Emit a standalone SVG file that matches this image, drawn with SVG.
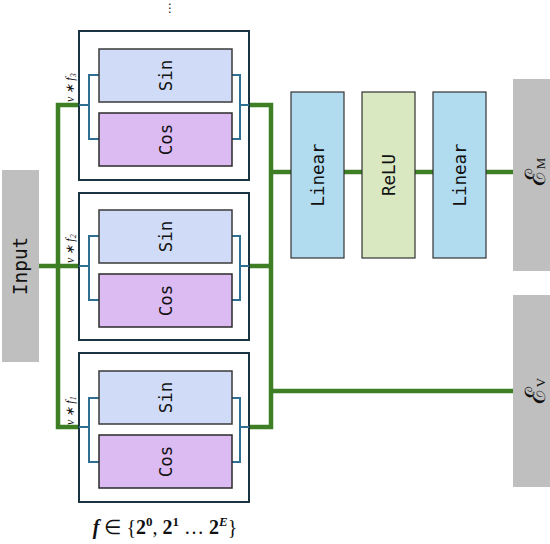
<svg xmlns="http://www.w3.org/2000/svg" width="550" height="544" viewBox="0 0 550 544">
<style>
.outer{fill:#fff;stroke:#1b3443;stroke-width:2}
.sin{fill:#d0dbf7;stroke:#3a3a3a;stroke-width:1.5}
.cos{fill:#dcbaf2;stroke:#2a2a2a;stroke-width:1.5}
.lin{fill:#b1dcf0;stroke:#333;stroke-width:1.2}
.relu{fill:#d9e8c1;stroke:#333;stroke-width:1.2}
.gray{fill:#bfbfbf}
.mono{font-family:"DejaVu Sans Mono",monospace;font-size:17.5px;fill:#111;text-anchor:middle;dominant-baseline:central}
.green{fill:none;stroke:#3e7f25;stroke-width:4.5}
.blue{fill:none;stroke:#2f6f92;stroke-width:2}
.vf{font-family:"Liberation Serif",serif;font-style:italic;font-size:12px;fill:#111}
.em{font-family:"DejaVu Serif",serif;font-size:28px;fill:#111;text-anchor:middle;dominant-baseline:central}
</style>
<g id="connectors">
<path class="green" d="M39,266 H79"/>
<path class="green" d="M79,105 H58 V427 H79"/>
<path class="green" d="M249,105 H271 V427 H249"/>
<path class="green" d="M249,266 H271"/>
<path class="green" d="M271,172 H291"/>
<path class="green" d="M344,172 H362"/>
<path class="green" d="M415,172 H433"/>
<path class="green" d="M486,172 H513"/>
<path class="green" d="M271,391 H513"/>
</g>
<g id="dots"><text x="170" y="8" font-family="DejaVu Sans,sans-serif" font-size="12" text-anchor="middle" dominant-baseline="central" fill="#111">⋮</text></g>
<g id="input"><rect class="gray" x="2" y="170" width="37" height="192"/><text class="mono" transform="translate(20.5,266) rotate(-90)" style="font-size:19.5px">Input</text></g>
<g id="block3">
<rect class="outer" x="79" y="31" width="170" height="149"/>
<path class="blue" d="M79,105 H89 M99,75 H89 V139 H99 M232,75 H240 V139 H232 M240,105 H249"/>
<rect class="sin" x="99" y="49" width="133" height="53"/>
<text class="mono" transform="translate(165.5,75.5) rotate(-90)">Sin</text>
<rect class="cos" x="99" y="113" width="133" height="53"/>
<text class="mono" transform="translate(165.5,139.5) rotate(-90)">Cos</text>
<text class="vf" transform="translate(74,102) rotate(-90)">v ∗ f<tspan font-size="8" dy="2">3</tspan></text>
</g>
<g id="block2">
<rect class="outer" x="79" y="193" width="170" height="147"/>
<path class="blue" d="M79,266 H89 M99,236 H89 V300 H99 M232,236 H240 V300 H232 M240,266 H249"/>
<rect class="sin" x="99" y="210" width="133" height="53"/>
<text class="mono" transform="translate(165.5,236.5) rotate(-90)">Sin</text>
<rect class="cos" x="99" y="274" width="133" height="53"/>
<text class="mono" transform="translate(165.5,300.5) rotate(-90)">Cos</text>
<text class="vf" transform="translate(74,263) rotate(-90)">v ∗ f<tspan font-size="8" dy="2">2</tspan></text>
</g>
<g id="block1">
<rect class="outer" x="79" y="353" width="170" height="149"/>
<path class="blue" d="M79,427 H89 M99,398 H89 V462 H99 M232,398 H240 V462 H232 M240,427 H249"/>
<rect class="sin" x="99" y="371" width="133" height="53"/>
<text class="mono" transform="translate(165.5,397.5) rotate(-90)">Sin</text>
<rect class="cos" x="99" y="435" width="133" height="53"/>
<text class="mono" transform="translate(165.5,461.5) rotate(-90)">Cos</text>
<text class="vf" transform="translate(74,425) rotate(-90)">v ∗ f<tspan font-size="8" dy="2">1</tspan></text>
</g>
<g id="linear1"><rect class="lin" x="291" y="92" width="53" height="166"/><text class="mono" transform="translate(317.5,175) rotate(-90)">Linear</text></g>
<g id="relu"><rect class="relu" x="362" y="92" width="53" height="166"/><text class="mono" transform="translate(388.5,175) rotate(-90)">ReLU</text></g>
<g id="linear2"><rect class="lin" x="433" y="92" width="53" height="166"/><text class="mono" transform="translate(459.5,175) rotate(-90)">Linear</text></g>
<g id="em"><rect class="gray" x="513" y="79" width="37" height="192"/><text class="em" transform="translate(535,172) rotate(-90)">ℰ<tspan font-family="Liberation Serif,serif" font-size="13" dy="5">M</tspan></text></g>
<g id="ev"><rect class="gray" x="513" y="295" width="37" height="192"/><text class="em" transform="translate(535,391) rotate(-90)">ℰ<tspan font-family="Liberation Serif,serif" font-size="13" dy="5">V</tspan></text></g>
<g id="formula"><text x="165" y="534" text-anchor="middle" font-family="Liberation Serif,serif" font-size="20" fill="#111"><tspan font-weight="bold" font-style="italic">f</tspan> ∈ {<tspan font-weight="bold">2</tspan><tspan font-weight="bold" font-size="13" dy="-8">0</tspan><tspan dy="8">, </tspan><tspan font-weight="bold">2</tspan><tspan font-weight="bold" font-size="13" dy="-8">1</tspan><tspan dy="8"> … </tspan><tspan font-weight="bold">2</tspan><tspan font-weight="bold" font-style="italic" font-size="13" dy="-8">E</tspan><tspan dy="8">}</tspan></text></g>
</svg>
